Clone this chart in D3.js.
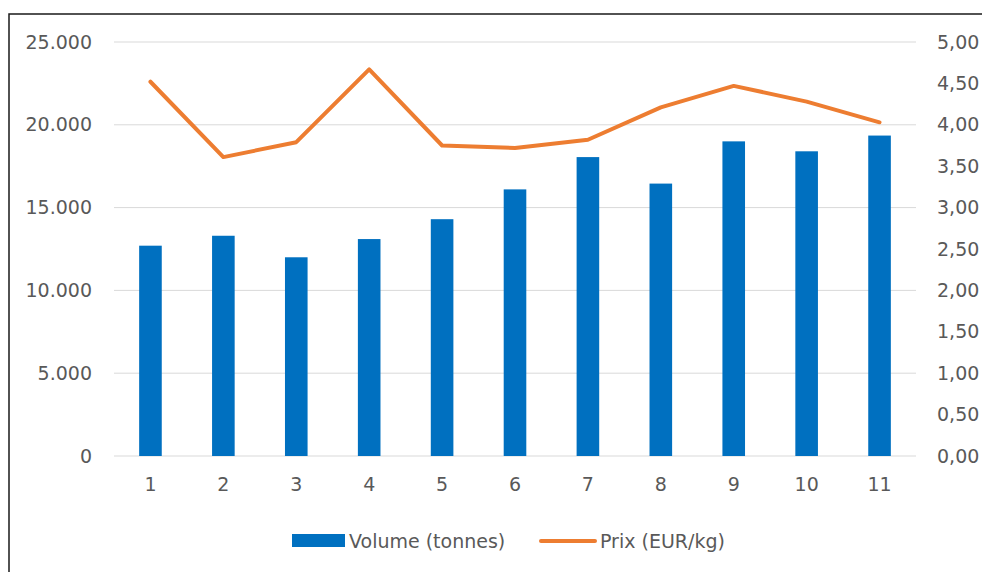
<!DOCTYPE html>
<html>
<head>
<meta charset="utf-8">
<script src="https://cdn.jsdelivr.net/npm/d3@7"></script>
<style>
  body { margin: 0; background: #fff; }
  svg { display: block; font-family: "DejaVu Sans", sans-serif; }
</style>
</head>
<body>
<svg width="982" height="572"></svg>
<script>
(function(d3) {
    'use strict';

    const categories = ['1', '2', '3', '4', '5', '6', '7', '8', '9', '10', '11'];
    const volume = [12700, 13300, 12000, 13100, 14300, 16100, 18050, 16450, 19000, 18400, 19350];
    const prix = [4.52, 3.61, 3.79, 4.67, 3.75, 3.72, 3.82, 4.21, 4.47, 4.28, 4.03];
    const volumeTicks = [0, 5000, 10000, 15000, 20000, 25000];
    const prixTicks = [0, 0.5, 1, 1.5, 2, 2.5, 3, 3.5, 4, 4.5, 5];

    const svg = d3.select('svg');
    const textColor = '#595959';
    const fontFamily = '"DejaVu Sans", sans-serif';
    const margin = { left: 114, right: 916, top: 42, bottom: 456 };

    // chart frame (right and bottom edges fall outside the shot)
    svg.append('rect')
        .attr('x', 9).attr('y', 14)
        .attr('width', 1000).attr('height', 600)
        .attr('fill', 'none')
        .attr('stroke', '#1a1a1a')
        .attr('stroke-width', 1.5);

    const x = d3.scaleBand()
        .domain(categories)
        .range([margin.left, margin.right])
        .paddingInner(0.69)
        .paddingOuter(0.345);

    const yLeft = d3.scaleLinear()
        .domain([0, 25000])
        .range([margin.bottom, margin.top]);

    const yRight = d3.scaleLinear()
        .domain([0, 5])
        .range([margin.bottom, margin.top]);

    const locale = d3.formatLocale({ decimal: ',', thousands: '.', grouping: [3], currency: ['', '€'] });
    const fmtVol = locale.format(',.0f');
    const fmtPrix = locale.format(',.2f');

    // gridlines
    svg.append('g')
        .selectAll('line')
        .data(volumeTicks)
        .join('line')
        .attr('x1', margin.left).attr('x2', margin.right)
        .attr('y1', d => yLeft(d)).attr('y2', d => yLeft(d))
        .attr('stroke', '#d9d9d9')
        .attr('stroke-width', 1);

    const styleAxis = (g) => {
        g.select('.domain').remove();
        g.selectAll('text')
            .attr('fill', textColor)
            .attr('font-size', 19)
            .attr('font-family', fontFamily);
    };

    // left axis
    svg.append('g')
        .attr('transform', `translate(${margin.left},0)`)
        .call(d3.axisLeft(yLeft).tickValues(volumeTicks).tickFormat(fmtVol).tickSize(0).tickPadding(22))
        .call(styleAxis);

    // right axis
    svg.append('g')
        .attr('transform', `translate(${margin.right},0)`)
        .call(d3.axisRight(yRight).tickValues(prixTicks).tickFormat(fmtPrix).tickSize(0).tickPadding(21))
        .call(styleAxis);

    // bottom axis
    svg.append('g')
        .attr('transform', `translate(0,${margin.bottom})`)
        .call(d3.axisBottom(x).tickSize(0).tickPadding(22))
        .call(styleAxis);

    // bars
    svg.append('g')
        .selectAll('rect')
        .data(volume)
        .join('rect')
        .attr('x', (d, i) => x(categories[i]))
        .attr('width', x.bandwidth())
        .attr('y', d => yLeft(d))
        .attr('height', d => yLeft(0) - yLeft(d))
        .attr('fill', '#0070c0');

    // price line
    const line = d3.line()
        .x((d, i) => x(categories[i]) + x.bandwidth() / 2)
        .y(d => yRight(d));

    svg.append('path')
        .datum(prix)
        .attr('d', line)
        .attr('fill', 'none')
        .attr('stroke', '#ed7d31')
        .attr('stroke-width', 4)
        .attr('stroke-linejoin', 'round')
        .attr('stroke-linecap', 'round');

    // legend
    const legend = svg.append('g')
        .attr('font-size', 19)
        .attr('font-family', fontFamily)
        .attr('fill', textColor);
    legend.append('rect')
        .attr('x', 292).attr('y', 534)
        .attr('width', 53).attr('height', 13)
        .attr('fill', '#0070c0');
    legend.append('text')
        .attr('x', 349).attr('y', 541)
        .attr('dy', '0.35em')
        .text('Volume (tonnes)');
    legend.append('line')
        .attr('x1', 541).attr('x2', 595)
        .attr('y1', 541).attr('y2', 541)
        .attr('stroke', '#ed7d31')
        .attr('stroke-width', 4)
        .attr('stroke-linecap', 'round');
    legend.append('text')
        .attr('x', 600).attr('y', 541)
        .attr('dy', '0.35em')
        .text('Prix (EUR/kg)');
}(d3));
</script>
</body>
</html>
